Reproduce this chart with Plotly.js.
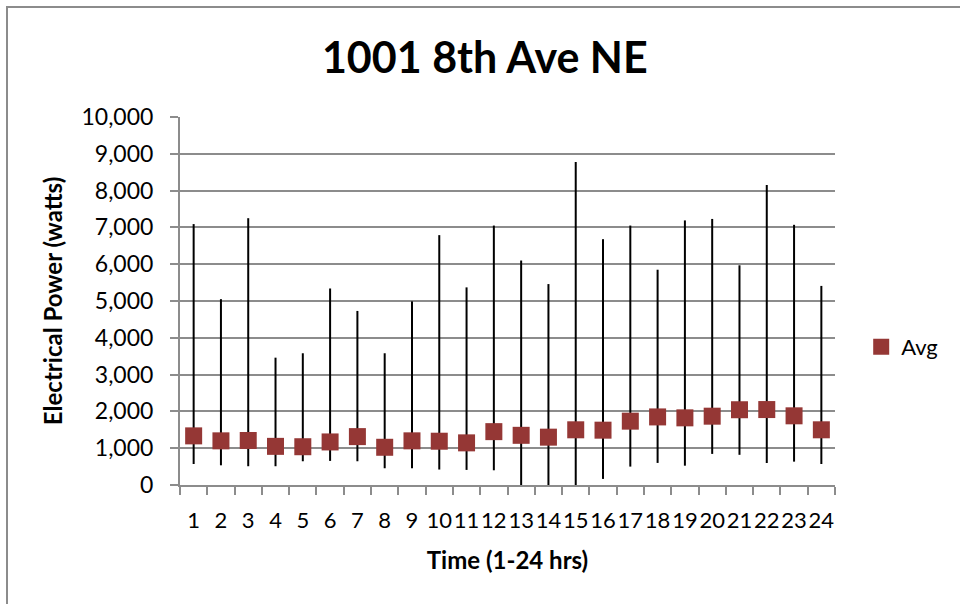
<!DOCTYPE html>
<html>
<head>
<meta charset="utf-8">
<script src="https://cdn.plot.ly/plotly-3.0.1.min.js"></script>
<style>
  html, body { margin: 0; padding: 0; background: #fff; }
  #chart { width: 960px; height: 604px; position: relative; }
  #frame { position: absolute; left: 6px; top: 6px; width: 960px; height: 604px;
           border-left: 2px solid #8c8c8c; border-top: 2px solid #8c8c8c; pointer-events: none; }
</style>
</head>
<body>
<div id="chart"></div>
<div id="frame"></div>
<script>
const hours = ["1","2","3","4","5","6","7","8","9","10","11","12","13","14","15","16","17","18","19","20","21","22","23","24"];
const avgWatts = [1335,1200,1210,1050,1040,1170,1315,1025,1200,1190,1145,1450,1350,1300,1500,1490,1735,1850,1825,1870,2045,2050,1880,1500];
const highWatts = [7090,5050,7250,3460,3580,5340,4730,3580,4990,6790,5370,7050,6100,5460,8780,6680,7050,5850,7190,7230,5970,8150,7070,5410];
const lowWatts = [570,535,510,510,645,655,645,455,455,420,410,400,0,0,0,165,500,600,525,845,820,600,635,570];
const yTicks = [0,1000,2000,3000,4000,5000,6000,7000,8000,9000,10000];

const errPlus = highWatts.map((h, i) => h - avgWatts[i]);
const errMinus = lowWatts.map((l, i) => avgWatts[i] - l);

const FONT = 'Lato, "Open Sans", sans-serif';
const GRID = '#8c8c8c';

const trace = {
  type: 'scatter',
  mode: 'markers',
  name: 'Avg',
  x: hours,
  y: avgWatts,
  marker: { symbol: 'square', size: 17, color: '#953735', line: { width: 0 } },
  error_y: {
    type: 'data', symmetric: false, array: errPlus, arrayminus: errMinus,
    color: '#000000', thickness: 2, width: 0
  }
};

const layout = {
  width: 960, height: 604,
  margin: { l: 180, r: 125, t: 117, b: 119 },
  paper_bgcolor: '#ffffff', plot_bgcolor: '#ffffff',
  font: { family: FONT, color: '#000000', size: 22 },
  title: {
    text: '<b>1001 8th Ave NE</b>',
    font: { family: FONT, size: 43, color: '#000000' },
    x: 0.505, xref: 'container', xanchor: 'center',
    y: 0.904, yref: 'container', yanchor: 'middle'
  },
  xaxis: {
    type: 'category',
    range: [-0.5, hours.length - 0.5],
    autorange: false,
    tickmode: 'array', tickvals: hours, ticktext: hours, tickangle: 0,
    tickson: 'boundaries',
    ticks: 'outside', ticklen: 8, tickwidth: 2, tickcolor: GRID,
    showline: true, linecolor: GRID, linewidth: 2,
    showgrid: false, zeroline: false,
    tickfont: { family: FONT, size: 22 },
    ticklabelstandoff: 15,
    title: { text: '<b>Time (1-24 hrs)</b>', font: { family: FONT, size: 24 }, standoff: 20 },
    fixedrange: true
  },
  yaxis: {
    range: [0, 10000],
    autorange: false,
    tickmode: 'array', tickvals: yTicks,
    tickformat: ',d',
    ticks: 'outside', ticklen: 8, tickwidth: 2, tickcolor: GRID,
    showline: true, linecolor: GRID, linewidth: 2,
    showgrid: true, gridcolor: GRID, gridwidth: 2,
    zeroline: false,
    tickfont: { family: FONT, size: 23 },
    ticklabelstandoff: 12,
    title: { text: '<b>Electrical Power (watts)</b>', font: { family: FONT, size: 24 }, standoff: 12 },
    fixedrange: true
  },
  showlegend: true,
  legend: {
    x: 1.04, xanchor: 'left', y: 0.375, yanchor: 'middle',
    font: { family: FONT, size: 22 },
    bgcolor: 'rgba(0,0,0,0)', borderwidth: 0
  }
};

Plotly.newPlot('chart', [trace], layout, { displayModeBar: false, staticPlot: true });
</script>
</body>
</html>
